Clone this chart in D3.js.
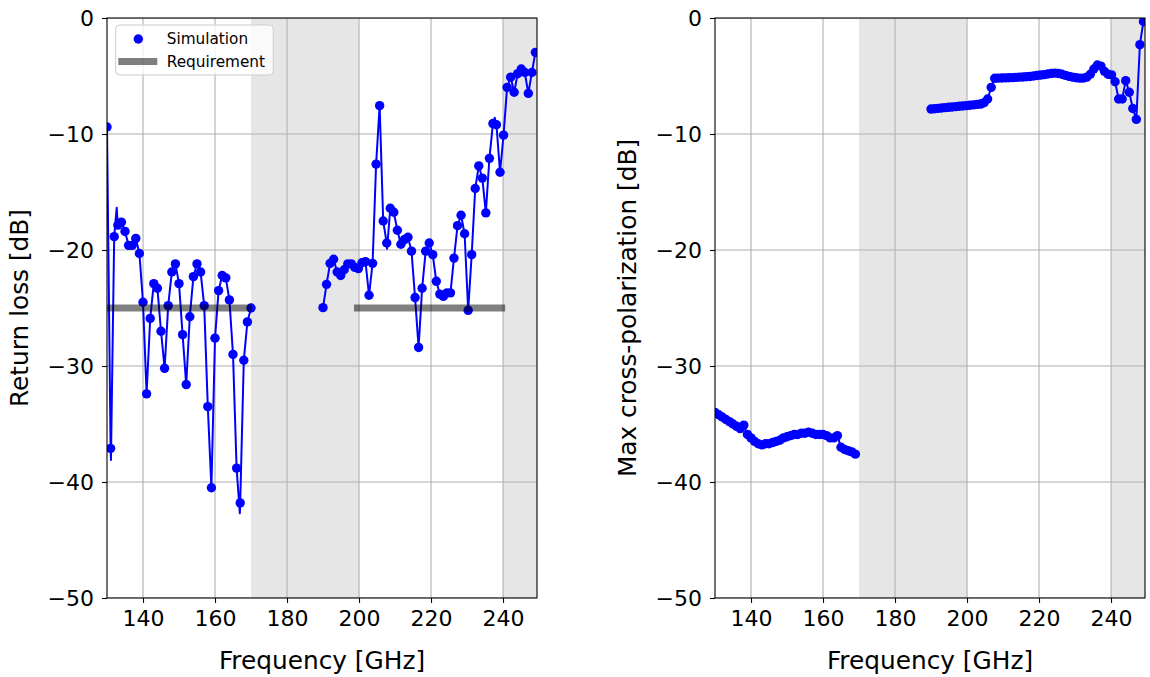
<!DOCTYPE html>
<html><head><meta charset="utf-8">
<script src="https://cdn.jsdelivr.net/npm/d3@7"></script>
<style>body{margin:0;background:#fff}svg{display:block}</style>
</head><body><svg id="c" width="1150" height="677"></svg>
<script>
// ---------- data ----------
const freqLo = d3.range(130, 171, 1);
const freqHi = [190.0,190.98,191.97,192.95,193.93,194.92,195.9,196.88,197.87,198.85,
  199.83,200.82,201.8,202.78,203.77,204.75,205.73,206.72,207.7,208.68,
  209.67,210.65,211.63,212.62,213.6,214.58,215.57,216.55,217.53,218.52,
  219.5,220.48,221.47,222.45,223.43,224.42,225.4,226.38,227.37,228.35,
  229.33,230.32,231.3,232.28,233.27,234.25,235.23,236.22,237.2,238.18,
  239.17,240.15,241.13,242.12,243.1,244.08,245.07,246.05,247.03,248.02,249.0];

const returnLossLo = [-9.4,-37.1,-18.85,-17.85,-17.6,-18.4,-19.6,-19.6,-19.0,-20.3,
  -24.5,-32.4,-25.9,-22.9,-23.3,-27.0,-30.2,-24.8,-21.9,-21.2,
  -22.9,-27.3,-31.6,-25.75,-22.3,-21.2,-21.9,-24.8,-33.5,-40.5,
  -27.6,-23.5,-22.2,-22.4,-24.3,-29.0,-38.8,-41.8,-29.5,-26.2,-25.0];
const returnLossHi = [-24.97,-22.96,-21.15,-20.8,-21.9,-22.2,-21.7,-21.2,-21.2,-21.5,
  -21.6,-21.1,-21.0,-23.9,-21.15,-12.6,-7.56,-17.5,-19.4,-16.4,
  -16.75,-18.3,-19.5,-19.1,-18.9,-20.1,-24.1,-28.4,-23.3,-20.1,
  -19.4,-20.4,-22.7,-23.8,-24.0,-23.7,-23.7,-20.7,-17.9,-17.0,
  -18.6,-25.2,-20.4,-14.7,-12.75,-13.8,-16.8,-12.1,-9.1,-9.2,
  -13.3,-10.1,-5.98,-5.1,-6.4,-4.8,-4.4,-4.7,-6.5,-4.7,-2.96];
// extra vertices of the (finer) simulation curve
const returnLossLineFreq = [131.1, 132.7, 166.9, 207.8, 237.7];
const returnLossLineVal  = [-38.1, -16.35, -42.7, -19.9, -8.6];

const crossPolLo = [-34.0,-34.2,-34.4,-34.6,-34.8,-35.0,-35.2,-35.4,-35.1,-35.9,
  -36.2,-36.5,-36.7,-36.8,-36.7,-36.7,-36.6,-36.5,-36.4,-36.2,
  -36.1,-36.0,-35.9,-35.9,-35.8,-35.8,-35.7,-35.8,-35.9,-35.9,
  -35.9,-36.0,-36.2,-36.2,-36.0,-37.0,-37.2,-37.3,-37.4,-37.6];
const crossPolHi = [-7.85,-7.82,-7.79,-7.76,-7.73,-7.70,-7.67,-7.64,-7.61,-7.58,
  -7.55,-7.52,-7.49,-7.45,-7.42,-7.3,-6.98,-5.98,-5.2,-5.18,
  -5.17,-5.16,-5.15,-5.14,-5.12,-5.1,-5.08,-5.06,-5.04,-5.0,
  -4.96,-4.92,-4.88,-4.83,-4.78,-4.75,-4.78,-4.85,-4.95,-5.03,
  -5.1,-5.15,-5.18,-5.18,-5.1,-4.85,-4.4,-4.05,-4.15,-4.6,
  -4.85,-4.9,-5.5,-6.98,-6.98,-5.4,-6.4,-7.8,-8.74,-2.3,-0.3];

const requirementLevel = -25;
const requirementStart = [130, 198.6];
const requirementEnd   = [170.2, 240.6];
const shadedStart = [170, 240];
const shadedEnd   = [200, 250];
const xTicks = [140, 160, 180, 200, 220, 240];
const yTicks = [-50, -40, -30, -20, -10, 0];
const xDomain = [130, 249.44];
const yDomain = [-50, 0];
const xLabel = "Frequency [GHz]";
const yLabels = ["Return loss [dB]", "Max cross-polarization [dB]"];
const legendLabels = ["Simulation", "Requirement"];

// ---------- drawing ----------
const svg = d3.select("#c");
const FONT = "DejaVu Sans, sans-serif";
const BLUE = "#0000ff";
const R = 4.7;
const plotTop = 18, plotBottom = 598;
const panels = [{x0:107, x1:537}, {x0:715, x1:1145}];

function zipPts(fs, vs){ return fs.slice(0, vs.length).map((f,i)=>({f, v:vs[i]})); }

function drawPanel(idx, segments, lineSegments, withReq, withLegend){
  const p = panels[idx];
  const x = d3.scaleLinear().domain(xDomain).range([p.x0, p.x1]);
  const y = d3.scaleLinear().domain(yDomain).range([plotBottom, plotTop]);
  const g = svg.append("g");
  const cid = "clip"+idx;
  svg.append("defs").append("clipPath").attr("id", cid)
    .append("rect").attr("x", p.x0).attr("y", plotTop).attr("width", p.x1-p.x0).attr("height", plotBottom-plotTop);
  const clipped = g.append("g").attr("clip-path", `url(#${cid})`);

  shadedStart.forEach((s,i)=>{
    clipped.append("rect").attr("x", x(s)).attr("y", plotTop)
      .attr("width", x(shadedEnd[i])-x(s)).attr("height", plotBottom-plotTop)
      .attr("fill", "#808080").attr("fill-opacity", 0.2);
  });
  xTicks.forEach(t=>{
    clipped.append("line").attr("x1", x(t)).attr("x2", x(t)).attr("y1", plotTop).attr("y2", plotBottom)
      .attr("stroke", "#b0b0b0").attr("stroke-width", 1.1);
  });
  yTicks.forEach(t=>{
    clipped.append("line").attr("x1", p.x0).attr("x2", p.x1).attr("y1", y(t)).attr("y2", y(t))
      .attr("stroke", "#b0b0b0").attr("stroke-width", 1.1);
  });

  const line = d3.line().x(d=>x(d.f)).y(d=>y(d.v));
  lineSegments.forEach(seg=>{
    clipped.append("path").attr("d", line(seg)).attr("fill", "none")
      .attr("stroke", BLUE).attr("stroke-width", 2).attr("stroke-linejoin", "round");
  });
  segments.forEach(seg=>{
    clipped.append("g").selectAll("circle").data(seg).join("circle")
      .attr("cx", d=>x(d.f)).attr("cy", d=>y(d.v)).attr("r", R).attr("fill", BLUE);
  });

  if (withReq){
    requirementStart.forEach((s,i)=>{
      clipped.append("line").attr("x1", x(s)).attr("x2", x(requirementEnd[i]))
        .attr("y1", y(requirementLevel)).attr("y2", y(requirementLevel))
        .attr("stroke", "#000").attr("stroke-opacity", 0.5).attr("stroke-width", 7);
    });
  }

  const ax = g.append("g").attr("transform", `translate(0,${plotBottom})`)
    .call(d3.axisBottom(x).tickValues(xTicks).tickSize(5).tickPadding(7).tickFormat(d3.format("d")));
  const ay = g.append("g").attr("transform", `translate(${p.x0},0)`)
    .call(d3.axisLeft(y).tickValues(yTicks).tickSize(5).tickPadding(8).tickFormat(d3.format("d")));
  [ax, ay].forEach(a=>{
    a.select(".domain").remove();
    a.selectAll(".tick line").attr("stroke", "#000").attr("stroke-width", 1.1);
    a.selectAll(".tick text").attr("font-family", FONT).attr("font-size", 22).attr("fill", "#000");
  });
  g.append("rect").attr("x", p.x0).attr("y", plotTop).attr("width", p.x1-p.x0).attr("height", plotBottom-plotTop)
    .attr("fill", "none").attr("stroke", "#000").attr("stroke-width", 1.1);

  g.append("text").attr("x", (p.x0+p.x1)/2).attr("y", 669).attr("text-anchor", "middle")
    .attr("font-family", FONT).attr("font-size", 24.8).text(xLabel);
  const lx = p.x0 - 79;
  g.append("text").attr("transform", `translate(${lx},${(plotTop+plotBottom)/2}) rotate(-90)`)
    .attr("text-anchor", "middle").attr("font-family", FONT).attr("font-size", 24.8).text(yLabels[idx]);

  if (withLegend){
    const lg = g.append("g");
    lg.append("rect").attr("x", 115.7).attr("y", 25).attr("width", 157.6).attr("height", 50)
      .attr("rx", 4).attr("fill", "#fff").attr("fill-opacity", 0.8)
      .attr("stroke", "#cccccc").attr("stroke-width", 1);
    lg.append("circle").attr("cx", 138.3).attr("cy", 39).attr("r", R).attr("fill", BLUE);
    lg.append("line").attr("x1", 118.3).attr("x2", 157.3).attr("y1", 61.5).attr("y2", 61.5)
      .attr("stroke", "#000").attr("stroke-opacity", 0.5).attr("stroke-width", 7);
    lg.append("text").attr("x", 166.7).attr("y", 44).attr("font-family", FONT).attr("font-size", 15.3).text(legendLabels[0]);
    lg.append("text").attr("x", 166.7).attr("y", 67).attr("font-family", FONT).attr("font-size", 15.3).text(legendLabels[1]);
  }
}

const rlLo = zipPts(freqLo, returnLossLo);
const rlHi = zipPts(freqHi, returnLossHi);
const extra = returnLossLineFreq.map((f,i)=>({f, v:returnLossLineVal[i]}));
const rlLineLo = rlLo.concat(extra.filter(d=>d.f<=170)).sort((a,b)=>a.f-b.f);
const rlLineHi = rlHi.concat(extra.filter(d=>d.f>=190)).sort((a,b)=>a.f-b.f);
drawPanel(0, [rlLo, rlHi], [rlLineLo, rlLineHi], true, true);

const xpLo = zipPts(freqLo, crossPolLo);
const xpHi = zipPts(freqHi, crossPolHi);
drawPanel(1, [xpLo, xpHi], [xpLo, xpHi], false, false);
</script></body></html>
